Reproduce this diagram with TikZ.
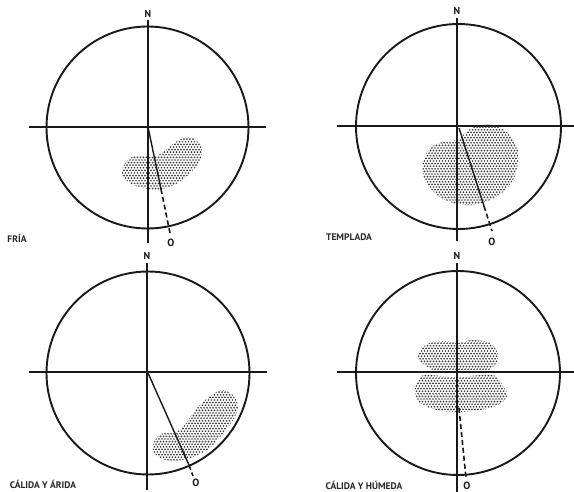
\documentclass[tikz,border=0pt]{standalone}
\usepackage{fontspec}
\setmainfont{PT Sans}
\begin{document}
\begin{tikzpicture}[x=1pt,y=-1pt,
  ring/.style={line width=1.9pt,black!90},
  axis/.style={line width=1.2pt,black!90},
  ray/.style={line width=1.4pt,black!90},
  raydash/.style={line width=1.6pt,black!90,dash pattern=on 5pt off 3pt},
  lbl/.style={font=\bfseries\fontsize{9.5}{10}\selectfont,inner sep=0pt,text=black!85},
  card/.style={font=\bfseries\fontsize{10}{10}\selectfont,inner sep=0pt,text=black!90},
  olbl/.style={font=\bfseries\fontsize{10.5}{10}\selectfont,inner sep=0pt,text=black!90},
  dotc/.style={fill=black!78}]
\useasboundingbox (0,0) rectangle (574,492);
\fill[white] (0,0) rectangle (574,492);

% stipple macro: xmin ymin xmax ymax
\newcommand\mystipple[4]{%
  \pgfmathtruncatemacro\nrows{(#4-#2)/2.6}%
  \pgfmathtruncatemacro\ncols{(#3-#1)/3}%
  \foreach \r in {0,...,\nrows}{%
    \pgfmathsetmacro\yy{#2+\r*2.6}%
    \pgfmathsetmacro\off{mod(\r,2)*1.5}%
    \foreach \k in {0,...,\ncols}{%
      \pgfmathsetmacro\xx{#1+\k*3+\off}%
      \fill[dotc] (\xx,\yy) circle (0.95);
    }%
  }%
}

% ---------- Panel 1: FRIA ----------
\begin{scope}
\clip plot[smooth cycle,tension=0.6] coordinates {(122,170) (130,158) (143,156) (154,157) (166,150) (177,141) (189,137) (198,142) (202,152) (198,164) (187,176) (176,184) (162,189) (149,189) (136,186) (126,180)};
\mystipple{118}{134}{205}{192}
\end{scope}
\coordinate (c1) at (148,127);
\node[draw,ring,circle,minimum size=202pt,inner sep=0pt] (ring1) at (147.5,127.5) {};
\coordinate (n1t) at (148,20); \coordinate (n1b) at (148,243);
\coordinate (w1) at (29,127); \coordinate (e1) at (266,127);
\draw[axis] (n1t) -- (n1b);
\draw[axis] (w1) -- (e1);
\coordinate (m1) at (161,189); \coordinate (s1) at (170,233);
\draw[ray] (c1) -- (m1);
\draw[raydash] (m1) -- (s1);
\node[card] (N1) at (148,14) {N};
\node[olbl] (O1) at (171,243) {O};
\node[lbl] (L1) at (17,238.5) {FRÍA};

% ---------- Panel 2: TEMPLADA ----------
\begin{scope}
\clip plot[smooth cycle,tension=0.6] coordinates {(463,135) (470,129) (477,126) (493,125) (508,133) (517,147) (518,163) (513,180) (503,192) (490,200) (473,205) (453,203) (437,195) (425,180) (423,163) (430,148) (443,142) (457,140)};
\mystipple{420}{122}{521}{207}
\end{scope}
\coordinate (c2) at (459,128);
\node[draw,ring,circle,minimum size=205pt,inner sep=0pt] (ring2) at (458.5,126.5) {};
\coordinate (n2t) at (457,18); \coordinate (n2b) at (457,241);
\coordinate (w2) at (337,126); \coordinate (e2) at (574,126);
\draw[axis] (n2t) -- (n2b);
\draw[axis] (w2) -- (e2);
\coordinate (m2) at (484,206); \coordinate (s2) at (492,231);
\draw[ray] (c2) -- (m2);
\draw[raydash] (m2) -- (s2);
\node[card] (N2) at (457,11) {N};
\node[olbl] (O2) at (492,242) {O};
\node[lbl] (L2) at (349,237) {TEMPLADA};

% ---------- Panel 3: CALIDA Y ARIDA ----------
\begin{scope}
\clip plot[smooth cycle,tension=0.6] coordinates {(212,395) (222,390) (233,395) (238,407) (233,420) (220,437) (207,450) (190,458) (173,461) (160,458) (153,450) (155,440) (163,433) (173,433) (183,427) (193,413) (203,402)};
\mystipple{150}{387}{241}{463}
\end{scope}
\coordinate (c3) at (148,373);
\node[draw,ring,circle,minimum size=203pt,inner sep=0pt] (ring3) at (148,373) {};
\coordinate (n3t) at (147,263); \coordinate (n3b) at (147,490);
\coordinate (w3) at (29,372); \coordinate (e3) at (267,372);
\draw[axis] (n3t) -- (n3b);
\draw[axis] (w3) -- (e3);
\coordinate (m3) at (189,465); \coordinate (s3) at (193,476);
\draw[ray] (c3) -- (m3);
\draw[raydash] (m3) -- (s3);
\node[card] (N3) at (147,256) {N};
\node[olbl] (O3) at (196,483) {O};
\node[lbl] (L3) at (43,484.5) {CÁLIDA Y ÁRIDA};

% ---------- Panel 4: CALIDA Y HUMEDA ----------
\begin{scope}
\clip plot[smooth cycle,tension=0.6] coordinates {(427,344) (445,341) (458,343) (472,340) (490,343) (498,355) (494,366) (482,371) (440,371) (426,366) (417,356)};
\mystipple{414}{338}{502}{374}
\end{scope}
\begin{scope}
\clip plot[smooth cycle,tension=0.6] coordinates {(425,375) (457,377) (492,375) (503,386) (507,396) (498,405) (480,410) (458,412) (437,410) (420,403) (415,391) (418,381)};
\mystipple{412}{373}{510}{414}
\end{scope}
\coordinate (c4) at (458,373);
\node[draw,ring,circle,minimum size=204pt,inner sep=0pt] (ring4) at (458,373) {};
\coordinate (n4t) at (457,263); \coordinate (n4b) at (457,492);
\coordinate (w4) at (337,372); \coordinate (e4) at (574,372);
\draw[axis] (n4t) -- (n4b);
\draw[axis] (w4) -- (e4);
\coordinate (m4) at (459,408); \coordinate (s4) at (466,478);
\draw[raydash] (m4) -- (s4);
\node[card] (N4) at (457,256) {N};
\node[olbl] (O4) at (467,486) {O};
\node[lbl] (L4) at (364,485) {CÁLIDA Y HÚMEDA};
\end{tikzpicture}
\end{document}
